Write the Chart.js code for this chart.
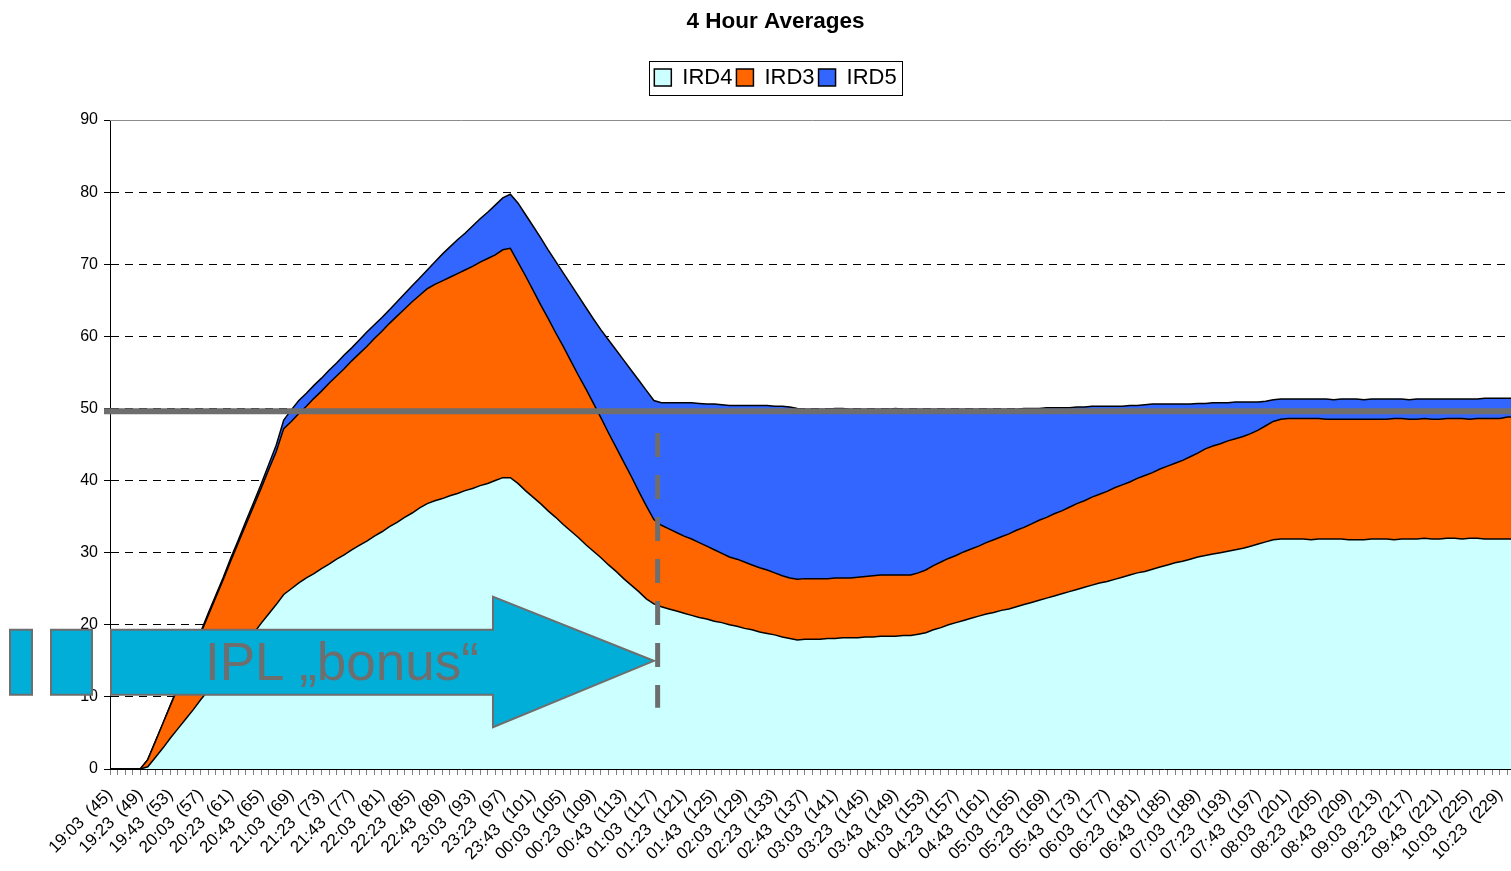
<!DOCTYPE html>
<html>
<head>
<meta charset="utf-8">
<script src="https://cdn.jsdelivr.net/npm/chart.js@4.4.1/dist/chart.umd.min.js"></script>
<style>
  html, body { margin: 0; padding: 0; background: #fff; overflow: hidden; }
  #wrap { width: 1515px; height: 871px; }
</style>
</head>
<body>
<div id="wrap"><canvas id="c" width="1515" height="871"></canvas></div>
<script>
// ---- Data -------------------------------------------------------------
const categories = [
  45,46,47,48,49,50,51,52,53,54, 55,56,57,58,59,60,61,62,63,64,
  65,66,67,68,69,70,71,72,73,74, 75,76,77,78,79,80,81,82,83,84,
  85,86,87,88,89,90,91,92,93,94, 95,96,97,98,99,100,101,102,103,104,
  105,106,107,108,109,110,111,112,113,114, 115,116,117,118,119,120,121,122,123,124,
  125,126,127,128,129,130,131,132,133,134, 135,136,137,138,139,140,141,142,143,144,
  145,146,147,148,149,150,151,152,153,154, 155,156,157,158,159,160,161,162,163,164,
  165,166,167,168,169,170,171,172,173,174, 175,176,177,178,179,180,181,182,183,184,
  185,186,187,188,189,190,191,192,193,194, 195,196,197,198,199,200,201,202,203,204,
  205,206,207,208,209,210,211,212,213,214, 215,216,217,218,219,220,221,222,223,224,
  225,226,227,228,229,230,231
];

const tickLabels = [
  '19:03  (45)','19:23  (49)','19:43  (53)','20:03  (57)','20:23  (61)','20:43  (65)',
  '21:03  (69)','21:23  (73)','21:43  (77)','22:03  (81)','22:23  (85)','22:43  (89)',
  '23:03  (93)','23:23  (97)','23:43  (101)','00:03  (105)','00:23  (109)','00:43  (113)',
  '01:03  (117)','01:23  (121)','01:43  (125)','02:03  (129)','02:23  (133)','02:43  (137)',
  '03:03  (141)','03:23  (145)','03:43  (149)','04:03  (153)','04:23  (157)','04:43  (161)',
  '05:03  (165)','05:23  (169)','05:43  (173)','06:03  (177)','06:23  (181)','06:43  (185)',
  '07:03  (189)','07:23  (193)','07:43  (197)','08:03  (201)','08:23  (205)','08:43  (209)',
  '09:03  (213)','09:23  (217)','09:43  (221)','10:03  (225)','10:23  (229)'
];

const ird4 = [
  0,0,0,0,0,0.3,1.6,2.9,4.3,5.6,
  6.9,8.2,9.6,10.9,12.2,13.5,14.9,16.2,17.5,18.8,
  20.2,21.5,22.8,24.2,25.0,25.8,26.5,27.1,27.8,28.4,
  29.1,29.7,30.4,31.0,31.6,32.3,32.9,33.6,34.2,34.9,
  35.5,36.2,36.8,37.2,37.5,37.9,38.2,38.6,38.9,39.3,
  39.6,40.0,40.4,40.4,39.6,38.6,37.7,36.8,35.8,34.9,
  33.9,33.0,32.1,31.1,30.2,29.3,28.3,27.4,26.4,25.5,
  24.6,23.6,22.9,22.5,22.2,21.9,21.6,21.3,21.0,20.8,
  20.5,20.3,20.0,19.8,19.5,19.3,19.0,18.8,18.6,18.3,
  18.1,17.9,18.0,18.0,18.0,18.1,18.1,18.2,18.2,18.2,
  18.3,18.3,18.4,18.4,18.4,18.5,18.5,18.7,18.9,19.3,
  19.6,20.0,20.3,20.6,20.9,21.2,21.5,21.7,22.0,22.2,
  22.5,22.8,23.1,23.4,23.7,24.0,24.3,24.6,24.9,25.2,
  25.5,25.8,26.0,26.3,26.6,26.9,27.2,27.4,27.7,28.0,
  28.3,28.6,28.8,29.1,29.4,29.6,29.8,30.0,30.2,30.4,
  30.6,30.9,31.2,31.5,31.8,31.9,31.9,31.9,31.9,31.8,
  31.9,31.9,31.9,31.9,31.8,31.8,31.8,31.9,31.9,31.9,
  31.8,31.9,31.9,31.9,32.0,31.9,31.9,32.0,32.0,31.9,
  32.0,32.0,31.9,31.9,31.9,31.9,31.9
];

const ird3 = [
  0,0,0,0,0,1.0,2.2,3.4,4.5,5.7,
  6.9,8.1,9.2,10.4,11.6,12.8,14.0,15.2,16.4,17.6,
  18.7,20.0,21.2,23.0,23.2,23.5,23.8,24.3,24.6,25.1,
  25.4,25.8,26.2,26.6,27.0,27.4,27.8,28.2,28.6,28.9,
  29.3,29.5,29.8,30.0,30.2,30.3,30.5,30.6,30.8,31.0,
  31.2,31.3,31.6,31.8,30.7,29.8,28.7,27.6,26.7,25.6,
  24.7,23.6,22.5,21.6,20.5,19.4,18.3,17.2,16.2,15.1,
  13.9,12.9,11.7,11.3,11.1,10.9,10.7,10.6,10.4,10.1,
  9.9,9.6,9.4,9.3,9.2,9.0,8.9,8.8,8.6,8.5,
  8.4,8.4,8.4,8.4,8.4,8.3,8.4,8.3,8.3,8.4,
  8.4,8.5,8.5,8.5,8.5,8.4,8.4,8.5,8.7,8.9,
  9.1,9.2,9.3,9.5,9.6,9.7,9.9,10.1,10.2,10.4,
  10.6,10.7,10.9,11.1,11.2,11.4,11.5,11.7,11.9,12.0,
  12.2,12.3,12.5,12.7,12.8,12.9,13.1,13.3,13.4,13.6,
  13.7,13.8,14.0,14.2,14.4,14.8,15.0,15.1,15.3,15.4,
  15.5,15.6,15.8,16.1,16.4,16.6,16.7,16.7,16.7,16.8,
  16.7,16.6,16.6,16.6,16.7,16.7,16.7,16.6,16.6,16.6,
  16.8,16.7,16.6,16.6,16.6,16.6,16.6,16.6,16.6,16.7,
  16.5,16.6,16.7,16.7,16.7,16.9,16.9
];

const ird5 = [
  0,0,0,0,0,0,0,0,0.1,0.1,
  0.2,0.2,0.2,0.3,0.3,0.3,0.4,0.4,0.5,0.5,
  0.6,0.7,0.9,1.2,1.6,1.8,1.8,1.8,1.8,1.8,
  1.8,1.9,1.8,1.9,2.0,1.9,1.9,1.9,2.0,2.1,
  2.2,2.4,2.6,3.1,3.7,4.2,4.7,5.1,5.6,6.0,
  6.4,6.9,7.2,7.5,8.2,8.5,8.9,9.3,9.5,9.9,
  10.2,10.6,11.0,11.3,11.7,12.2,12.9,13.5,14.1,14.7,
  15.4,16.0,16.5,17.0,17.5,18.0,18.5,18.9,19.3,19.7,
  20.2,20.6,21.0,21.3,21.7,22.1,22.5,22.8,23.1,23.5,
  23.7,23.7,23.5,23.5,23.5,23.5,23.5,23.5,23.4,23.3,
  23.2,23.1,23.0,23.0,23.1,23.0,23.0,22.7,22.3,21.7,
  21.2,20.7,20.3,19.8,19.4,19.0,18.5,18.1,17.7,17.3,
  16.8,16.5,16.0,15.5,15.2,14.7,14.3,13.8,13.4,13.0,
  12.6,12.2,11.8,11.3,10.9,10.6,10.1,9.8,9.5,9.0,
  8.6,8.2,7.8,7.3,6.9,6.3,6.0,5.7,5.3,5.1,
  4.8,4.4,3.9,3.4,3.0,2.8,2.7,2.7,2.7,2.7,
  2.7,2.8,2.7,2.8,2.8,2.8,2.7,2.8,2.8,2.8,
  2.7,2.7,2.7,2.8,2.7,2.8,2.8,2.7,2.7,2.7,
  2.8,2.7,2.8,2.8,2.8,2.6,2.6
];

const threshold = 49.6;          // thick grey reference line
const dividerCategory = 117.5;   // dashed vertical marker
const arrowText = 'IPL \u201Ebonus\u201C';

// ---- Helpers ----------------------------------------------------------
const FONT = "'Liberation Sans', Arial, Helvetica, sans-serif";
const catPos = (cat) => cat - categories[0];   // category -> scale value

const overlayPlugin = {
  id: 'overlay',
  beforeDatasetsDraw(chart) {
    const {ctx, chartArea: a, scales: {y}} = chart;
    ctx.save();
    ctx.strokeStyle = '#8c8c8c';
    ctx.lineWidth = 1;
    const yt = Math.round(y.getPixelForValue(90)) + 0.5;
    ctx.beginPath(); ctx.moveTo(a.left, yt); ctx.lineTo(a.right, yt); ctx.stroke();
    ctx.restore();
  },
  afterDatasetsDraw(chart) {
    const {ctx, chartArea: a, scales: {y}} = chart;
    ctx.save();
    const ty = y.getPixelForValue(threshold);
    ctx.strokeStyle = '#6e6e6e';
    ctx.lineWidth = 6;
    ctx.beginPath(); ctx.moveTo(a.left - 6, ty); ctx.lineTo(a.right, ty); ctx.stroke();
    ctx.restore();
  },
  afterDraw(chart) {
    const {ctx, chartArea: a, scales: {x, y}} = chart;
    ctx.save();
    // legend frame
    const hb = chart.legend.legendHitBoxes;
    if (hb && hb.length) {
      const l = Math.min(...hb.map(h => h.left));
      const r = Math.max(...hb.map(h => h.left + h.width));
      const t = Math.min(...hb.map(h => h.top));
      const b = Math.max(...hb.map(h => h.top + h.height));
      ctx.strokeStyle = '#000';
      ctx.lineWidth = 1;
      ctx.strokeRect(Math.round(l - 5) + 0.5, Math.round(t - 6) + 0.5, Math.round(r - l + 11), Math.round(b - t + 12));
    }
    // arrow
    const tipX = x.getPixelForValue(catPos(117));
    const baseX = x.getPixelForValue(catPos(95.7));
    const bodyL = a.left + 1;
    const yBT = y.getPixelForValue(19.3), yBB = y.getPixelForValue(10.3);
    const yHT = y.getPixelForValue(23.9), yHB = y.getPixelForValue(5.8);
    const yTip = y.getPixelForValue(15.0);
    ctx.fillStyle = '#00AED8';
    ctx.strokeStyle = '#6e6e6e';
    ctx.lineWidth = 2;
    ctx.lineJoin = 'miter';
    ctx.beginPath();
    ctx.moveTo(bodyL, yBT); ctx.lineTo(baseX, yBT); ctx.lineTo(baseX, yHT);
    ctx.lineTo(tipX, yTip); ctx.lineTo(baseX, yHB); ctx.lineTo(baseX, yBB);
    ctx.lineTo(bodyL, yBB); ctx.closePath();
    ctx.fill(); ctx.stroke();
    // two small blocks left of the arrow
    [[a.left - 100, a.left - 78], [a.left - 59, a.left - 18]].forEach(([l, r]) => {
      ctx.beginPath(); ctx.rect(l, yBT, r - l, yBB - yBT); ctx.fill(); ctx.stroke();
    });
    // label
    ctx.fillStyle = '#6e6e6e';
    ctx.font = '53px ' + FONT;
    ctx.textAlign = 'center';
    ctx.textBaseline = 'alphabetic';
    ctx.fillText(arrowText, x.getPixelForValue(catPos(75.7)), y.getPixelForValue(12.3));
    // dashed divider
    const dx = x.getPixelForValue(catPos(dividerCategory));
    ctx.strokeStyle = '#6e6e6e';
    ctx.lineWidth = 5;
    ctx.setLineDash([24, 18]);
    ctx.beginPath(); ctx.moveTo(dx, y.getPixelForValue(46.6)); ctx.lineTo(dx, y.getPixelForValue(8.5)); ctx.stroke();
    ctx.restore();
  }
};

new Chart(document.getElementById('c'), {
  type: 'line',
  data: {
    labels: categories.map(String),
    datasets: [
      { label: 'IRD4', data: ird4, backgroundColor: '#CCFFFF', borderColor: '#000', borderWidth: 1.5, fill: 'origin', pointRadius: 0, tension: 0 },
      { label: 'IRD3', data: ird3, backgroundColor: '#FF6600', borderColor: '#000', borderWidth: 1.5, fill: '-1', pointRadius: 0, tension: 0 },
      { label: 'IRD5', data: ird5, backgroundColor: '#3366FF', borderColor: '#000', borderWidth: 1.5, fill: '-1', pointRadius: 0, tension: 0 }
    ]
  },
  options: {
    responsive: false,
    animation: false,
    events: [],
    layout: { padding: { left: 36, right: 0, top: 0, bottom: 0 } },
    plugins: {
      title: {
        display: true, text: '4 Hour Averages', color: '#000',
        font: { family: FONT, size: 22.5, weight: 'bold' },
        padding: { top: 8, bottom: 27.5 }
      },
      subtitle: {
        display: true, text: ' ', weight: 500,
        font: { family: FONT, size: 1 },
        padding: { top: 0, bottom: 20.3 }
      },
      legend: {
        display: true, position: 'top',
        labels: { color: '#000', font: { family: FONT, size: 22 }, boxWidth: 17, boxHeight: 17, padding: 4 }
      },
      tooltip: { enabled: false },
      filler: { propagate: false }
    },
    scales: {
      x: {
        type: 'category',
        afterFit(s) { s.height = 102; s.paddingLeft = 0; s.paddingRight = 0; },
        ticks: {
          autoSkip: false, minRotation: 45, maxRotation: 45, padding: 10,
          color: '#000', font: { family: FONT, size: 17 },
          callback(value, index) {
            const c = categories[index];
            const t = tickLabels.find(s => s.endsWith('(' + c + ')'));
            return t || '';
          }
        },
        grid: { display: true, drawOnChartArea: false, drawTicks: true, tickLength: 6, tickColor: '#808080', color: '#808080', tickBorderDash: [] },
        border: { display: true, color: '#000', width: 1 }
      },
      y: {
        stacked: true, min: 0, max: 90,
        afterFit(s) { s.width = 74; },
        ticks: { stepSize: 10, color: '#000', font: { family: FONT, size: 16 }, padding: 6 },
        grid: {
          drawTicks: true, tickLength: 6, tickColor: '#000', tickBorderDash: [],
          color: (c) => (c.tick && (c.tick.value === 90 || c.tick.value === 0)) ? 'rgba(0,0,0,0)' : '#000'
        },
        border: { display: true, color: '#000', width: 1, dash: [8, 6] }
      }
    }
  },
  plugins: [overlayPlugin]
});
</script>
</body>
</html>
